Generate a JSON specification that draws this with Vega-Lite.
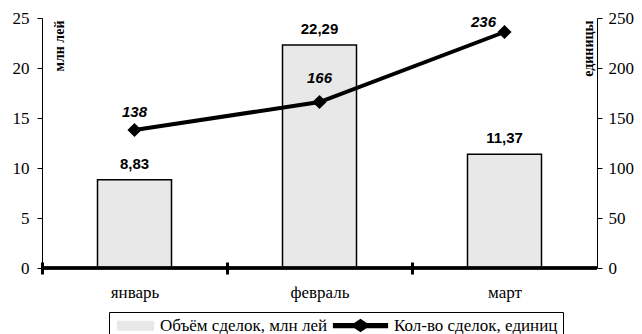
{
  "$schema": "https://vega.github.io/schema/vega-lite/v6.json",
  "width": 555,
  "height": 250,
  "autosize": {"type": "none"},
  "padding": {"left": 42, "top": 18, "right": 45, "bottom": 66},
  "background": "white",
  "data": {
    "values": [
      {"month": "январь", "vol": 8.83, "cnt": 138},
      {"month": "февраль", "vol": 22.29, "cnt": 166},
      {"month": "март", "vol": 11.37, "cnt": 236}
    ]
  },
  "encoding": {
    "x": {
      "field": "month",
      "type": "nominal",
      "sort": null,
      "scale": {"paddingInner": 0.6, "paddingOuter": 0.3},
      "axis": {
        "title": null,
        "labelAngle": 0,
        "domain": false,
        "tickOffset": -92.5,
        "labelOffset": 92.5,
        "offset": -6,
        "tickSize": 12,
        "tickWidth": 3,
        "tickColor": "black",
        "labelPadding": 10,
        "labelFont": "Liberation Serif",
        "labelFontSize": 17,
        "labelColor": "black"
      }
    }
  },
  "layer": [
    {
      "layer": [
        {
          "mark": {"type": "bar", "stroke": "black", "strokeWidth": 1.5},
          "encoding": {
            "stroke": {"value": "black"},
            "strokeWidth": {"value": 1.5},
            "y": {
              "field": "vol",
              "type": "quantitative",
              "scale": {"domain": [0, 25], "nice": false},
              "axis": {
                "values": [0, 5, 10, 15, 20, 25],
                "title": "млн лей",
                "titleFont": "Liberation Serif",
                "titleFontSize": 14,
                "titleFontWeight": "bold",
                "titleColor": "black",
                "titleAngle": -90,
                "titleX": 17,
                "titleY": 2,
                "titleAlign": "right",
                "titleBaseline": "middle",
                "grid": false,
                "domainColor": "black",
                "tickColor": "black",
                "tickSize": 5,
                "labelPadding": 8,
                "labelFont": "Liberation Serif",
                "labelFontSize": 17,
                "labelColor": "black"
              }
            },
            "color": {
              "datum": "Объём сделок, млн лей",
              "type": "nominal",
              "scale": {
                "domain": ["Объём сделок, млн лей", "Кол-во сделок, единиц"],
                "range": ["#e8e8e8", "black"]
              },
              "legend": {
                "title": null,
                "orient": "none",
                "direction": "horizontal",
                "legendX": 67,
                "legendY": 294,
                "strokeColor": "black",
                "fillColor": "white",
                "padding": 5,
                "columnPadding": 3,
                "labelOffset": 29,
                "labelLimit": 0,
                "symbolSize": 100,
                "symbolOpacity": 1,
                "symbolType": {"expr": "datum.value === 'Объём сделок, млн лей' ? 'M-1,-0.9L6.2,-0.9L6.2,0.9L-1,0.9Z' : 'M-4.6,-0.4L-0.4,-0.4L0.8,-1.2L2,-0.4L6.2,-0.4L6.2,0.4L2,0.4L0.8,1.2L-0.4,0.4L-4.6,0.4Z'"},
                "symbolStrokeColor": "black",
                "symbolStrokeWidth": 1.2,
                "labelFont": "Liberation Serif",
                "labelFontSize": 17,
                "labelColor": "black"
              }
            }
          }
        },
        {
          "mark": {"type": "rule", "stroke": "black", "strokeWidth": 3},
          "encoding": {"y": {"datum": 0, "type": "quantitative"}, "x": {"value": 0}, "x2": {"value": 555}}
        },
        {
          "mark": {"type": "text", "font": "Liberation Sans", "fontSize": 15, "fontWeight": "bold", "baseline": "alphabetic", "dy": -11, "color": "black"},
          "encoding": {
            "y": {"field": "vol", "type": "quantitative"},
            "text": {"field": "vol", "type": "quantitative", "format": ".2f"}
          }
        }
      ]
    },
    {
      "layer": [
        {
          "mark": {"type": "line", "strokeWidth": 4, "point": {"filled": true, "shape": "diamond", "size": 200}},
          "encoding": {
            "y": {
              "field": "cnt",
              "type": "quantitative",
              "scale": {"domain": [0, 250], "nice": false},
              "axis": {
                "orient": "right",
                "values": [0, 50, 100, 150, 200, 250],
                "title": "единицы",
                "titleFont": "Liberation Serif",
                "titleFontSize": 14,
                "titleFontWeight": "bold",
                "titleColor": "black",
                "titleAngle": -90,
                "titleX": -9,
                "titleY": 2,
                "titleAlign": "right",
                "titleBaseline": "middle",
                "grid": false,
                "domainColor": "black",
                "tickColor": "black",
                "tickSize": 5,
                "labelPadding": 6,
                "labelFont": "Liberation Serif",
                "labelFontSize": 17,
                "labelColor": "black"
              }
            },
            "color": {"datum": "Кол-во сделок, единиц", "type": "nominal"}
          }
        },
        {
          "transform": [{"filter": "datum.cnt === 138"}],
          "mark": {"type": "text", "font": "Liberation Sans", "fontSize": 15, "fontWeight": "bold", "fontStyle": "italic", "baseline": "alphabetic", "dy": -13, "color": "black"},
          "encoding": {"y": {"field": "cnt", "type": "quantitative"}, "text": {"field": "cnt", "type": "quantitative"}}
        },
        {
          "transform": [{"filter": "datum.cnt === 166"}],
          "mark": {"type": "text", "font": "Liberation Sans", "fontSize": 15, "fontWeight": "bold", "fontStyle": "italic", "baseline": "alphabetic", "dy": -19, "color": "black"},
          "encoding": {"y": {"field": "cnt", "type": "quantitative"}, "text": {"field": "cnt", "type": "quantitative"}}
        },
        {
          "transform": [{"filter": "datum.cnt === 236"}],
          "mark": {"type": "text", "font": "Liberation Sans", "fontSize": 15, "fontWeight": "bold", "fontStyle": "italic", "baseline": "alphabetic", "dy": -5, "dx": -21, "color": "black"},
          "encoding": {"y": {"field": "cnt", "type": "quantitative"}, "text": {"field": "cnt", "type": "quantitative"}}
        }
      ]
    }
  ],
  "resolve": {"scale": {"y": "independent"}},
  "config": {
    "view": {"stroke": null},
    "locale": {"number": {"decimal": ",", "thousands": " ", "grouping": [3], "currency": ["", ""]}}
  }
}
